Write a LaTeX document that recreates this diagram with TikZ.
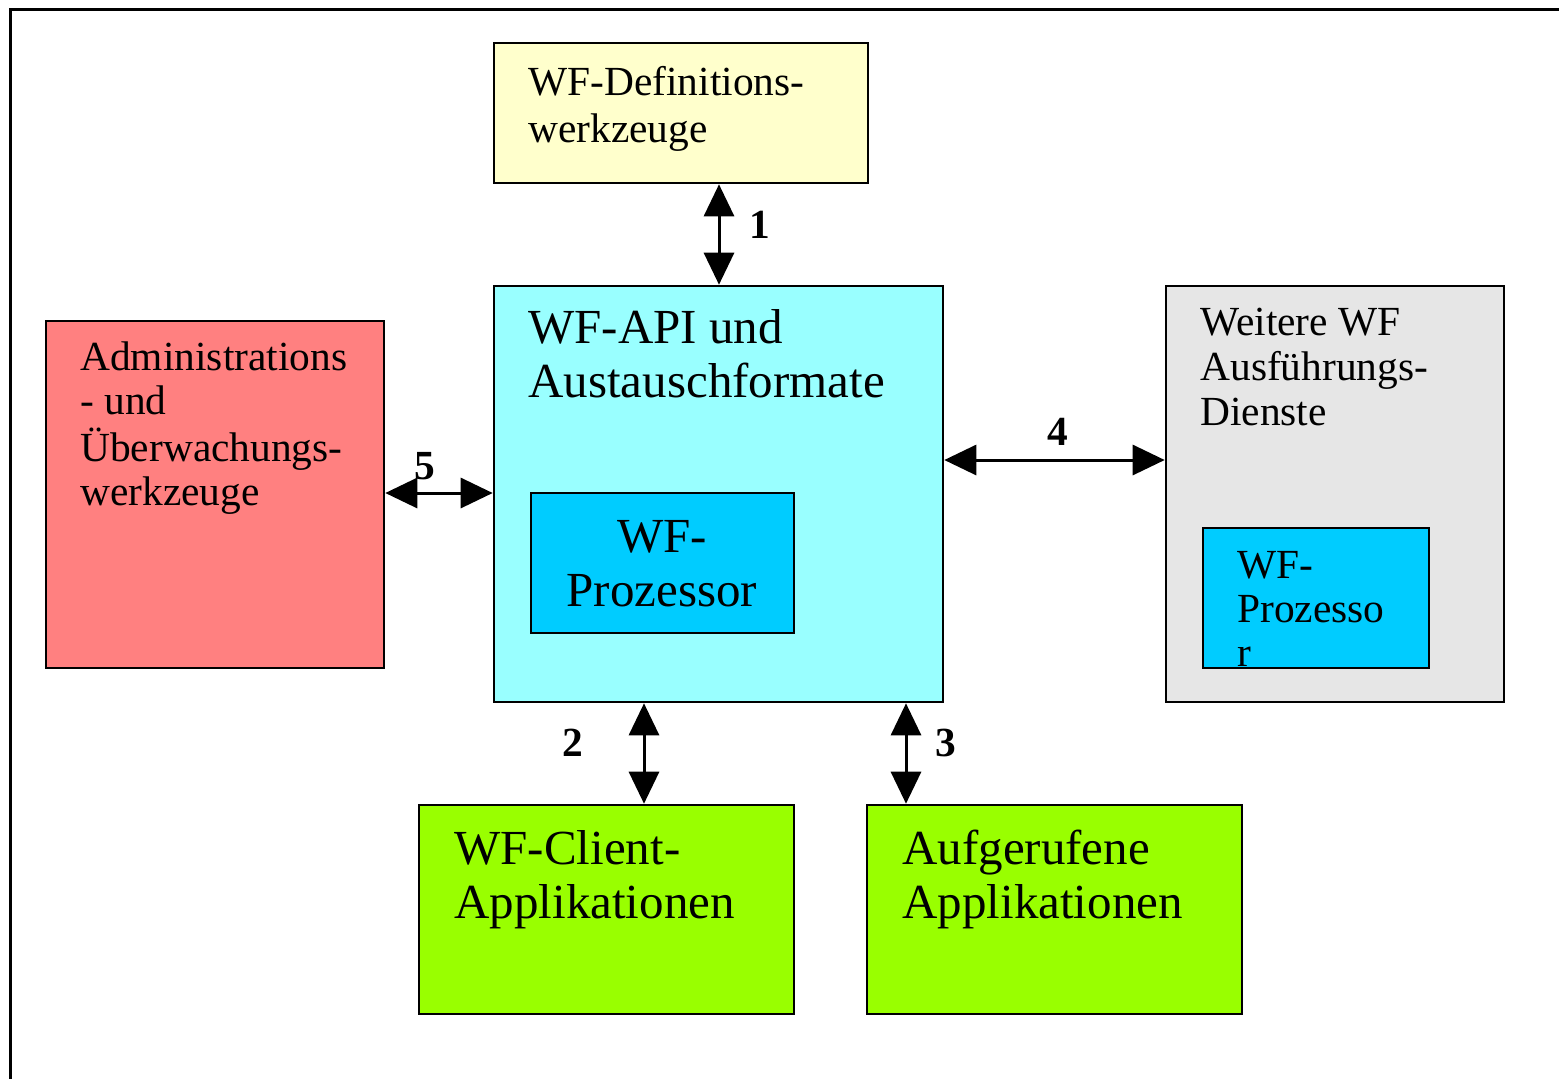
\documentclass[tikz,border=0pt]{standalone}
\usepackage{fontspec}
\setmainfont{Liberation Serif}
\usetikzlibrary{arrows.meta,fit}
\definecolor{defY}{HTML}{FFFFCC}
\definecolor{apiC}{HTML}{99FFFF}
\definecolor{procB}{HTML}{00CCFF}
\definecolor{admR}{HTML}{FF8080}
\definecolor{weiG}{HTML}{E6E6E6}
\definecolor{appG}{HTML}{99FF00}
\newcommand\mylines[1]{\begin{tabular}[t]{@{}l@{}}#1\end{tabular}}
\newcommand\mylinesc[1]{\begin{tabular}[t]{@{}c@{}}#1\end{tabular}}
\begin{document}
\begin{tikzpicture}[x=0.5pt,y=-0.5pt,
 box/.style={draw=black, line width=1.3pt, inner sep=0pt},
 big/.style={anchor=base west, inner sep=0pt, font=\fontsize{24.5}{27}\selectfont},
 small/.style={anchor=base west, inner sep=0pt, font=\fontsize{20.7}{#1}\selectfont},
 small/.default={22.5},
 num/.style={inner sep=0pt, font=\fontsize{20.7}{24}\selectfont\bfseries},
 dbl/.style={line width=1.5pt, {Triangle[length=16pt,width=15pt]}-{Triangle[length=16pt,width=15pt]}}]
\useasboundingbox (0,0) rectangle (1559,1078);
\draw[line width=1.5pt] (10,1082) -- (10,9) -- (1562,9);

% boxes
\node[box, fill=defY,  fit={(494,43) (868,183)}] (def) {};
\node[box, fill=apiC,  fit={(494,286) (943,702)}] (api) {};
\node[box, fill=procB, fit={(531,493) (794,633)}] (proc) {};
\node[box, fill=admR,  fit={(46,321) (384,668)}] (adm) {};
\node[box, fill=weiG,  fit={(1166,286) (1504,702)}] (wei) {};
\node[box, fill=procB, fit={(1203,528) (1429,668)}] (proc2) {};
\node[box, fill=appG,  fit={(419,805) (794,1014)}] (cli) {};
\node[box, fill=appG,  fit={(867,805) (1242,1014)}] (auf) {};

% texts
\node[small={23.5}] (tdef) at (528,95) {\mylines{WF-Definitions-\\werkzeuge}};
\node[big] (tapi) at (528,343) {\mylines{WF-API und\\Austauschformate}};
\node[big, anchor=base] (tproc) at (662,552) {\mylinesc{WF-\\Prozessor}};
\node[small={22.25}] (tadm) at (80,370) {\mylines{Administrations\\- und\\Überwachungs-\\werkzeuge}};
\node[small={22.5}] (twei) at (1200,335) {\mylines{Weitere WF\\Ausführungs-\\Dienste}};
\node[small={22}] (tproc2) at (1237,578) {\mylines{WF-\\Prozesso\\r}};
\node[big] (tcli) at (454,864) {\mylines{WF-Client-\\Applikationen}};
\node[big] (tauf) at (902,864) {\mylines{Aufgerufene\\Applikationen}};

% connector positions
\coordinate (x1) at (719,0);
\coordinate (x2) at (644,0);
\coordinate (x3) at (906,0);
\coordinate (y4) at (0,460);
\coordinate (y5) at (0,493);

\draw[dbl] (def.south -| x1) -- (api.north -| x1);
\draw[dbl] (api.south -| x2) -- (cli.north -| x2);
\draw[dbl] (api.south -| x3) -- (auf.north -| x3);
\draw[dbl] (api.east |- y4) -- (wei.west |- y4);
\draw[dbl] (adm.east |- y5) -- (api.west |- y5);

\node[num] (n1) at (760,225) {1};
\node[num] (n2) at (573,743) {2};
\node[num] (n3) at (946,743) {3};
\node[num] (n4) at (1058,432) {4};
\node[num] (n5) at (425,466) {5};
\end{tikzpicture}
\end{document}
